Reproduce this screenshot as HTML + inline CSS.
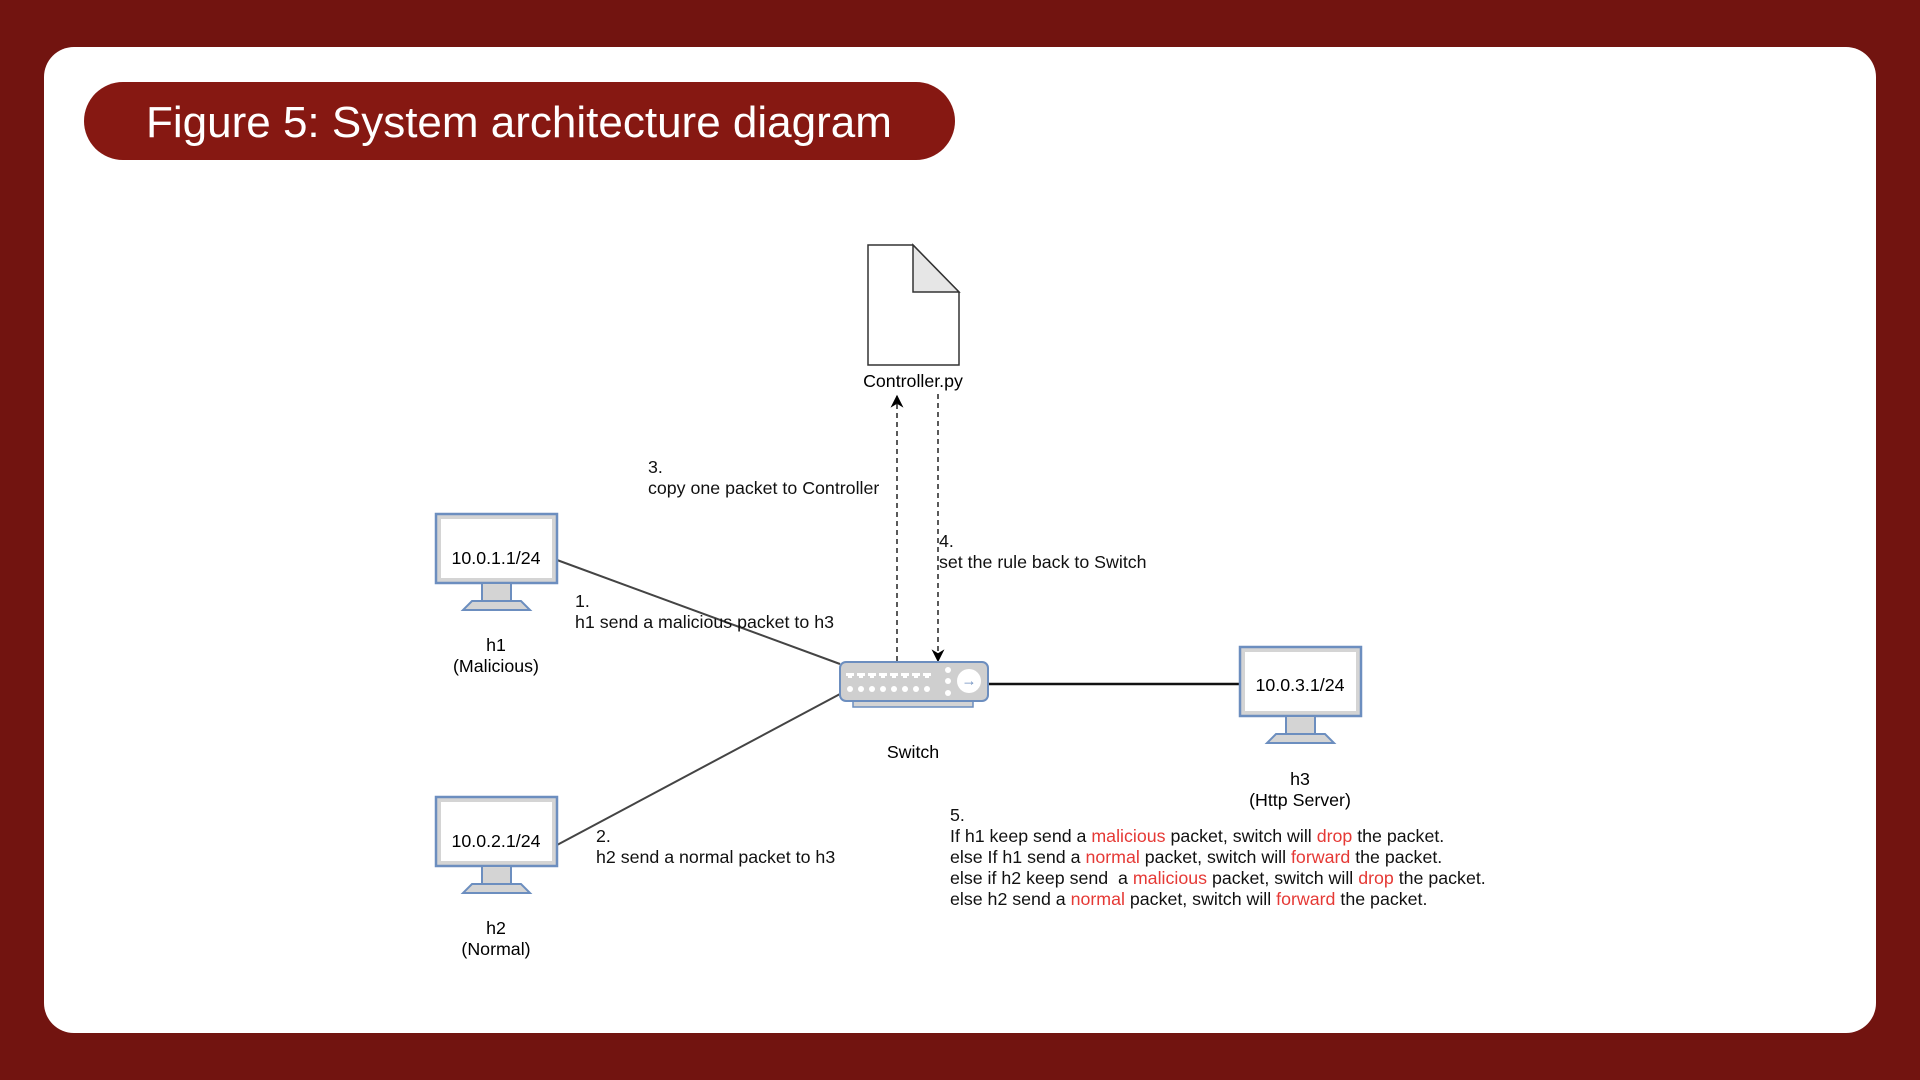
<!DOCTYPE html>
<html><head><meta charset="utf-8"><style>
html,body{margin:0;padding:0;width:1920px;height:1080px;overflow:hidden;background:#721410;}
svg{display:block}
text{font-family:"Liberation Sans",Arial,sans-serif;}
</style></head><body>
<svg width="1920" height="1080" viewBox="0 0 1920 1080" xmlns="http://www.w3.org/2000/svg">
<rect x="0" y="0" width="1920" height="1080" fill="#721410"/>
<rect x="44" y="47" width="1832" height="986" rx="30" fill="#ffffff"/>
<rect x="84" y="82" width="871" height="78" rx="39" fill="#861812"/>
<text x="146" y="137" font-size="44" fill="#ffffff">Figure 5: System architecture diagram</text>

<defs>
<marker id="ar" viewBox="0 0 10 10" refX="9" refY="5" markerWidth="13" markerHeight="13" orient="auto-start-reverse" markerUnits="userSpaceOnUse">
<path d="M0,0 L10,5 L0,10 L3,5 z" fill="#000"/>
</marker>
<g id="mon">
<rect x="0" y="0" width="121" height="69" fill="#d4d4d4" stroke="#6c8ebf" stroke-width="2.5"/>
<rect x="5" y="5" width="111" height="59" fill="#ffffff"/>
<rect x="46" y="69" width="29" height="18" fill="#d4d4d4" stroke="#6c8ebf" stroke-width="2"/>
<path d="M36,87 L85,87 L94,96 L27,96 z" fill="#d4d4d4" stroke="#6c8ebf" stroke-width="2"/>
</g>
</defs>

<line x1="557" y1="560" x2="840" y2="664" stroke="#444" stroke-width="2"/>
<line x1="557" y1="845" x2="840" y2="694" stroke="#444" stroke-width="2"/>
<line x1="988" y1="684" x2="1240" y2="684" stroke="#111" stroke-width="2.5"/>
<line x1="897" y1="661" x2="897" y2="396" stroke="#000" stroke-width="1.3" stroke-dasharray="5,4" marker-end="url(#ar)"/>
<line x1="938" y1="394" x2="938" y2="661" stroke="#000" stroke-width="1.3" stroke-dasharray="5,4" marker-end="url(#ar)"/>

<path d="M868,245 L913,245 L959,292 L959,365 L868,365 z" fill="#fff" stroke="#333" stroke-width="1.5"/>
<path d="M913,245 L913,292 L959,292 z" fill="#e6e6e6" stroke="#333" stroke-width="1.5"/>
<text x="913" y="381" font-size="17.8" text-anchor="middle" dominant-baseline="central">Controller.py</text>

<rect x="853" y="699" width="120" height="8" fill="#d4d4d4" stroke="#6c8ebf" stroke-width="1.5"/>
<rect x="840" y="662" width="148" height="39" rx="6" fill="#cfcfcf" stroke="#6c8ebf" stroke-width="2"/>
<g fill="#fff">
<path d="M846,673h8v3h-2v2h-4v-2h-2z"/><path d="M857,673h8v3h-2v2h-4v-2h-2z"/><path d="M868,673h8v3h-2v2h-4v-2h-2z"/><path d="M879,673h8v3h-2v2h-4v-2h-2z"/><path d="M890,673h8v3h-2v2h-4v-2h-2z"/><path d="M901,673h8v3h-2v2h-4v-2h-2z"/><path d="M912,673h8v3h-2v2h-4v-2h-2z"/><path d="M923,673h8v3h-2v2h-4v-2h-2z"/>
<circle cx="850" cy="689" r="3"/><circle cx="861" cy="689" r="3"/><circle cx="872" cy="689" r="3"/><circle cx="883" cy="689" r="3"/><circle cx="894" cy="689" r="3"/><circle cx="905" cy="689" r="3"/><circle cx="916" cy="689" r="3"/><circle cx="927" cy="689" r="3"/>
<circle cx="948" cy="670" r="3"/><circle cx="948" cy="681" r="3"/><circle cx="948" cy="693" r="3"/>
<circle cx="969" cy="681" r="12"/>
</g>
<text x="969" y="681" font-size="15" fill="#6c8ebf" text-anchor="middle" dominant-baseline="central">→</text>
<text x="913" y="752" font-size="17.8" text-anchor="middle" dominant-baseline="central">Switch</text>

<use href="#mon" x="436" y="514"/>
<text x="496" y="558" font-size="17.8" text-anchor="middle" dominant-baseline="central">10.0.1.1/24</text>
<text x="496" y="645" font-size="17.8" text-anchor="middle" dominant-baseline="central">h1</text>
<text x="496" y="666" font-size="17.8" text-anchor="middle" dominant-baseline="central">(Malicious)</text>

<use href="#mon" x="436" y="797"/>
<text x="496" y="841" font-size="17.8" text-anchor="middle" dominant-baseline="central">10.0.2.1/24</text>
<text x="496" y="928" font-size="17.8" text-anchor="middle" dominant-baseline="central">h2</text>
<text x="496" y="949" font-size="17.8" text-anchor="middle" dominant-baseline="central">(Normal)</text>

<use href="#mon" x="1240" y="647"/>
<text x="1300" y="685" font-size="17.8" text-anchor="middle" dominant-baseline="central">10.0.3.1/24</text>
<text x="1300" y="779" font-size="17.8" text-anchor="middle" dominant-baseline="central">h3</text>
<text x="1300" y="800" font-size="17.8" text-anchor="middle" dominant-baseline="central">(Http Server)</text>

<g font-size="17.8" dominant-baseline="central" fill="#111">
<text x="648" y="467">3.</text>
<text x="648" y="488">copy one packet to Controller</text>
<text x="939" y="541">4.</text>
<text x="939" y="562">set the rule back to Switch</text>
<text x="575" y="601">1.</text>
<text x="575" y="622">h1 send a malicious packet to h3</text>
<text x="596" y="836">2.</text>
<text x="596" y="857">h2 send a normal packet to h3</text>
<text x="950" y="815">5.</text>
<text x="950" y="836">If h1 keep send a <tspan fill="#e53935">malicious</tspan> packet, switch will <tspan fill="#e53935">drop</tspan> the packet.</text>
<text x="950" y="857">else If h1 send a <tspan fill="#e53935">normal</tspan> packet, switch will <tspan fill="#e53935">forward</tspan> the packet.</text>
<text x="950" y="878" xml:space="preserve">else if h2 keep send  a <tspan fill="#e53935">malicious</tspan> packet, switch will <tspan fill="#e53935">drop</tspan> the packet.</text>
<text x="950" y="899">else h2 send a <tspan fill="#e53935">normal</tspan> packet, switch will <tspan fill="#e53935">forward</tspan> the packet.</text>
</g>
</svg>
</body></html>
